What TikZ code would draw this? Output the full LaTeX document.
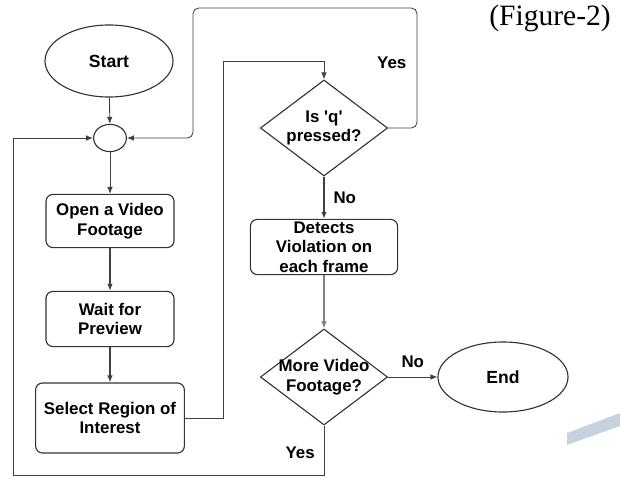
\documentclass[tikz,border=0pt]{standalone}
\usepackage{fontspec}
\setmainfont{Liberation Serif}
\setsansfont{Liberation Sans}
\usetikzlibrary{shapes.geometric, arrows.meta}
\definecolor{wmark}{RGB}{200,210,222}

\begin{document}
\begin{tikzpicture}[x=0.025cm, y=-0.025cm, >={Latex[length=5pt,width=4pt]},
    box/.style={draw=black!80, line width=0.8pt, rounded corners=5pt, align=center,
      font=\sffamily\bfseries\fontsize{12}{13.8}\selectfont},
    term/.style={ellipse, draw=black!80, line width=0.8pt,
      font=\sffamily\bfseries\fontsize{12.5}{15}\selectfont},
    decision/.style={diamond, draw=black!80, line width=0.8pt, inner sep=0pt,
      minimum width=3.18cm, minimum height=2.4cm},
    dtext/.style={align=center, font=\sffamily\bfseries\fontsize{12}{14}\selectfont},
    flow/.style={draw=black!75, line width=0.6pt},
    yesno/.style={font=\sffamily\bfseries\fontsize{12}{14}\selectfont}]
\useasboundingbox (0,0) rectangle (620,479);

% watermark
\fill[wmark] (567,433) -- (620,413) -- (620,426) -- (567,445) -- cycle;

\node[font=\fontsize{21}{25}\selectfont] (fig) at (550,18) {(Figure-2)};

\node[term, minimum width=3.2cm, minimum height=1.8cm] (start) at (109,61) {Start};
\node[ellipse, draw=black!80, line width=0.8pt, minimum width=0.82cm, minimum height=0.68cm] (join) at (110,138) {};
\node[box, minimum width=3.2cm, minimum height=1.33cm] (open) at (110,221) {Open a Video\\Footage};
\node[box, minimum width=3.2cm, minimum height=1.38cm] (wait) at (110,319) {Wait for\\Preview};
\node[box, minimum width=3.72cm, minimum height=1.75cm] (roi) at (110,418) {Select Region of\\Interest};
\node[decision, label={[dtext]center:Is \textquotesingle q\textquotesingle\\pressed?}] (quit) at (324,128) {};
\node[box, minimum width=3.68cm, minimum height=1.38cm, inner sep=1pt] (detect) at (324,247) {Detects\\Violation on\\each frame};
\node[decision, label={[dtext]center:More Video\\Footage?}] (more) at (324,377) {};
\node[term, minimum width=3.25cm, minimum height=1.75cm] (end) at (503,377) {End};

\draw[flow, ->] (start) -- (join);
\draw[flow, ->] (join) -- (open);
\draw[flow, line width=0.9pt, ->] (open) -- (wait);
\draw[flow, line width=0.9pt, ->] (wait) -- (roi);
\draw[flow, ->] (roi.east) -- (223,418) -- (223,61) -- (324,61) -- (quit.north);
\draw[flow, rounded corners=4pt, ->] (quit.east) -- (417,128) -- (417,8)
  node[yesno, pos=0.54, left=4pt] (yes1) {Yes} -- (193,8) -- (193,138) -- (join.east);
\draw[flow, line width=0.9pt, ->] (quit.south) -- (detect.north)
  node[yesno, midway, right=3pt] (no1) {No};
\draw[draw=black!50, line width=0.8pt, ->] (detect.south) -- (more.north);
\draw[flow, ->] (more.east) -- (end.west) node[yesno, midway, above=3pt] (no2) {No};
\draw[flow, ->] (more.south) -- (324,475) node[yesno, pos=0.55, left=3pt] (yes2) {Yes}
  -- (13,475) -- (13,138) -- (join.west);

\end{tikzpicture}
\end{document}
